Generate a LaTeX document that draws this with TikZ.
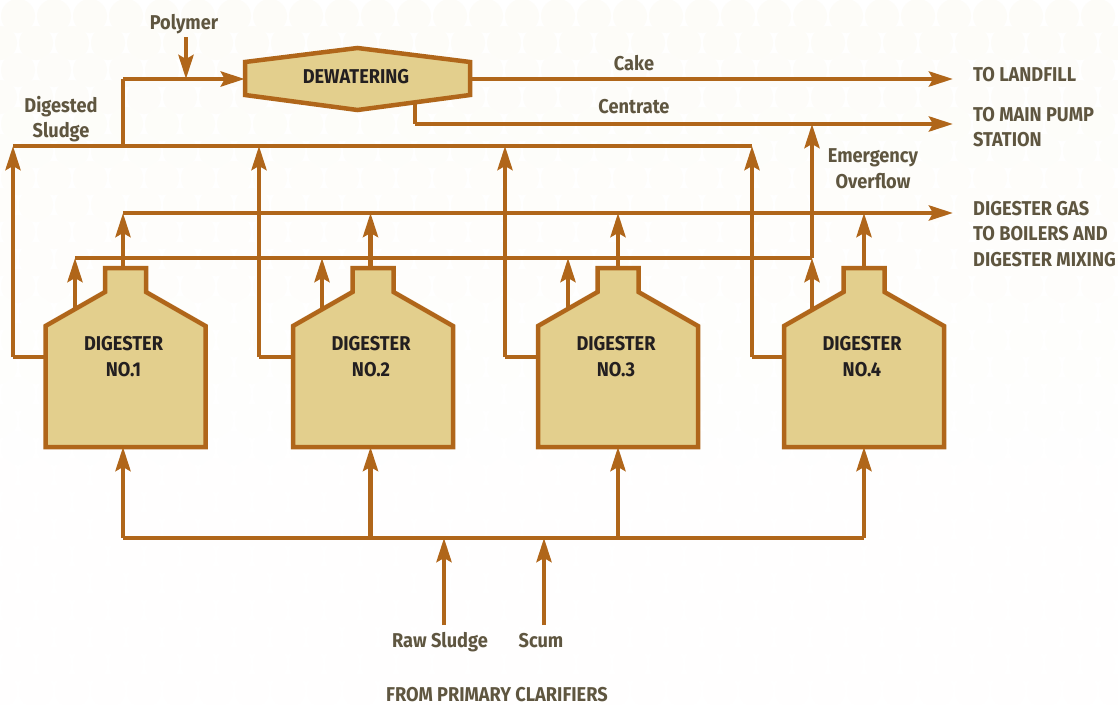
\documentclass[tikz,border=0pt]{standalone}
\usepackage{fontspec}
\setmainfont[FakeStretch=0.91]{Fira Sans Bold}
\usetikzlibrary{arrows.meta}
\usetikzlibrary{positioning}
\definecolor{pipe}{HTML}{B0661A}
\definecolor{tankfill}{HTML}{E3CF8D}
\definecolor{lbltext}{HTML}{5F5640}
\definecolor{tanktext}{HTML}{231F20}
\definecolor{paper}{HTML}{FDFCF8}
\begin{document}
\begin{tikzpicture}[x=1pt,y=-1pt]
    \tikzstyle{flow}=[draw=pipe, line width=4.3pt, -{Stealth[length=24pt, width=15pt, inset=4pt]}]
    \tikzstyle{run}=[draw=pipe, line width=4.3pt]
    \tikzstyle{tank}=[draw=pipe, line width=4.5pt, fill=tankfill, miter limit=10]
    \tikzstyle{lbl}=[text=lbltext, align=center, inner sep=0pt, font=\fontsize{20}{25.7}\selectfont]
    \tikzstyle{tanklbl}=[text=tanktext, align=center, inner sep=0pt, font=\fontsize{20}{25.7}\selectfont]
    \useasboundingbox (0,0) rectangle (1118,704);
    \fill[white] (0,0) rectangle (1118,704);
    % faint circles of the paper
    \foreach \r in {0,...,25}
      \foreach \k in {0,...,31}
        {\pgfmathtruncatemacro{\pct}{max(15,100-\r*5)}
         \fill[paper!\pct!white] ({\k*36-18+18*mod(\r,2)},{\r*27+16}) circle (17);}
    % junctions on the pipes
    \coordinate (polyin) at (186,37);
    \coordinate (polyj) at (186,79);
    \coordinate (slj) at (123,146);
    \coordinate (slk) at (123,79);
    \coordinate (slstart) at (13,146);
    \coordinate (slend) at (752,146);
    \coordinate (cakeout) at (953,79);
    \coordinate (cenbot) at (415,124);
    \coordinate (cenout) at (953,124);
    \coordinate (cenj) at (812,124);
    \coordinate (ovstart) at (75,258);
    \coordinate (ovend) at (812,258);
    \coordinate (gasstart) at (123,213);
    \coordinate (gasout) at (953,213);
    \coordinate (feedl) at (123,538);
    \coordinate (feedr) at (864,538);
    \coordinate (rawin) at (444,625);
    \coordinate (rawj) at (444,538);
    \coordinate (scumin) at (544,625);
    \coordinate (scumj) at (544,538);
    % dewatering unit
    \node[inner sep=0pt, minimum width=225pt, minimum height=33pt] (dewater) at (357.5,79) {};
    \coordinate (cenup) at (415,100);
    \draw[flow] (polyin) -- (polyj);
    \draw[run] (slj) -- (slk);
    \draw[flow] (slk) -- (dewater.west);
    \draw[run] (slstart) -- (slend);
    \draw[flow] (dewater.east) -- (cakeout);
    \draw[run] (cenup) -- (cenbot);
    \draw[flow] (cenbot) -- (cenout);
    \draw[run] (ovstart) -- (ovend);
    \draw[flow] (ovend) -- (cenj);
    \draw[flow] (gasstart) -- (gasout);
    \draw[run] (feedl) -- (feedr);
    \draw[flow] (rawin) -- (rawj);
    \draw[flow] (scumin) -- (scumj);
    \draw[tank] (245,62) -- (357.5,48) -- (470,62) -- (470,95) -- (357.5,110) -- (245,95) -- cycle;
    \node[tanklbl] (dewlbl) at (356,77) {DEWATERING};
    % digesters: number, body centre, pipe x, overflow x, side x
    \foreach \i/\c/\p/\o/\s in {1/125.5/123/75/13, 2/373/370.5/322/259, 3/618/618/568/505, 4/864/864/812/752}
    {
      \coordinate (dout\i) at (\p,268);
      \coordinate (dgas\i) at (\p,213);
      \coordinate (dovf\i) at (\o,310);
      \coordinate (dovt\i) at (\o,258);
      \coordinate (dsid\i) at (\c-80,357);
      \coordinate (dsdc\i) at (\s,357);
      \coordinate (dsdt\i) at (\s,146);
      \coordinate (dfed\i) at (\p,538);
      \coordinate (dbot\i) at (\p,447);
      \draw[flow] (dout\i) -- (dgas\i);
      \draw[flow] (dovf\i) -- (dovt\i);
      \draw[run] (dsid\i) -- (dsdc\i);
      \draw[flow] (dsdc\i) -- (dsdt\i);
      \draw[flow] (dfed\i) -- (dbot\i);
      \draw[tank] (\c-80,447) -- (\c-80,326) -- (\c-20.5,292) -- (\c-20.5,268) -- (\c+20.5,268) -- (\c+20.5,292) -- (\c+80,326) -- (\c+80,447) -- cycle;
      \node[tanklbl] (dig\i) at (\c-2,356.5) {DIGESTER\\NO.\i};
    }
    \node[lbl] (polymer) at (184,24) {Polymer};
    \node[lbl] (digested) at (61,119) {Digested\\Sludge};
    \node[lbl] (cake) at (634,63) {Cake};
    \node[lbl] (centrate) at (634,107) {Centrate};
    \node[lbl] (emerg) at (873,169) {Emergency\\Overflow};
    \node[lbl, anchor=west] (landfill) at (973,75) {TO LANDFILL};
    \node[lbl, anchor=west, align=left] (pump) at (973,127) {TO MAIN PUMP\\STATION};
    \node[lbl, anchor=west, align=left] (gas) at (973,234) {DIGESTER GAS\\TO BOILERS AND\\DIGESTER MIXING};
    \node[lbl] (raw) at (440,642) {Raw Sludge};
    \node[lbl] (scum) at (541,641) {Scum};
    \node[lbl] (clarif) at (497,695) {FROM PRIMARY CLARIFIERS};
\end{tikzpicture}
\end{document}
